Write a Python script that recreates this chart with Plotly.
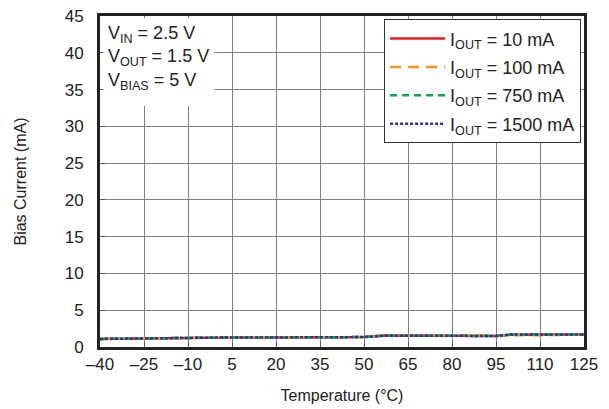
import plotly.graph_objects as go

temps = [-40, -25, -10, 5, 20, 35, 50, 57, 65, 80, 95, 100, 110, 125]
i10 = [1.10, 1.20, 1.25, 1.30, 1.30, 1.30, 1.35, 1.55, 1.55, 1.50, 1.50, 1.65, 1.65, 1.70]
i100 = [1.10, 1.20, 1.25, 1.30, 1.30, 1.30, 1.35, 1.55, 1.55, 1.50, 1.50, 1.55, 1.60, 1.70]
i750 = [1.10, 1.20, 1.25, 1.30, 1.30, 1.30, 1.35, 1.55, 1.55, 1.50, 1.50, 1.70, 1.70, 1.70]
i1500 = [1.10, 1.20, 1.25, 1.30, 1.30, 1.30, 1.35, 1.55, 1.55, 1.50, 1.50, 1.70, 1.70, 1.70]

series_names = ["I<sub>OUT</sub> = 10 mA", "I<sub>OUT</sub> = 100 mA",
                "I<sub>OUT</sub> = 750 mA", "I<sub>OUT</sub> = 1500 mA"]
series_vals = [i10, i100, i750, i1500]
colors = ["#ed1c24", "#f7941d", "#00a651", "#2e3192"]
dashes = ["solid", "11px,7px", "7px,5px", "3px,2px"]

x_ticks = [-40, -25, -10, 5, 20, 35, 50, 65, 80, 95, 110, 125]
x_ticktext = ["\u201340", "\u201325", "\u201310", "5", "20", "35", "50", "65", "80", "95", "110", "125"]
y_ticks = [0, 5, 10, 15, 20, 25, 30, 35, 40, 45]

fig = go.Figure()
for i, (name, vals) in enumerate(zip(series_names, series_vals)):
    fig.add_trace(go.Scatter(
        x=temps, y=vals, name=name, mode="lines",
        line=dict(color=colors[i], width=2.5, dash=dashes[i]),
        legendgroup=f"g{i}",
    ))

font = "Liberation Sans, Arial, sans-serif"
fig.update_layout(
    width=609, height=409,
    margin=dict(l=92, r=33, t=8, b=70, autoexpand=False),
    paper_bgcolor="white", plot_bgcolor="white",
    font=dict(family=font, size=17, color="#222"),
    showlegend=True,
    legend=dict(
        x=0.994, y=0.99, xanchor="right", yanchor="top",
        bgcolor="white", bordercolor="#333", borderwidth=1,
        font=dict(size=18, color="#222"),
        traceorder="grouped", tracegroupgap=2,
        itemwidth=55,
    ),
    xaxis=dict(
        range=[-40, 125], tickvals=x_ticks, ticktext=x_ticktext,
        showgrid=True, gridcolor="#808080", gridwidth=1,
        showline=True, linecolor="#222", linewidth=3, mirror=True,
        ticks="inside", ticklen=5, tickcolor="#555",
        zeroline=False, tickfont=dict(size=17),
        title=dict(text="Temperature (\u00b0C)", font=dict(size=16), standoff=17),
    ),
    yaxis=dict(
        range=[0, 45], tickvals=y_ticks,
        showgrid=True, gridcolor="#808080", gridwidth=1,
        showline=True, linecolor="#222", linewidth=3, mirror=True,
        ticks="inside", ticklen=5, tickcolor="#555",
        zeroline=False, tickfont=dict(size=17), ticklabelstandoff=10,
        ticklabeloverflow="allow",
        title=dict(text="Bias Current (mA)", font=dict(size=16), standoff=35),
    ),
)

fig.add_shape(type="rect", xref="paper", yref="paper",
              x0=0.007, x1=0.236, y0=0.728, y1=0.993,
              fillcolor="white", line=dict(width=0), layer="above")

fig.add_annotation(
    xref="paper", yref="paper", x=0.013, y=0.985, xanchor="left", yanchor="top",
    align="left", showarrow=False,
    text="V<sub>IN</sub> = 2.5 V<br>V<sub>OUT</sub> = 1.5 V<br>V<sub>BIAS</sub> = 5 V",
    font=dict(size=18, color="#222"),
)

fig.write_html("out.html")
